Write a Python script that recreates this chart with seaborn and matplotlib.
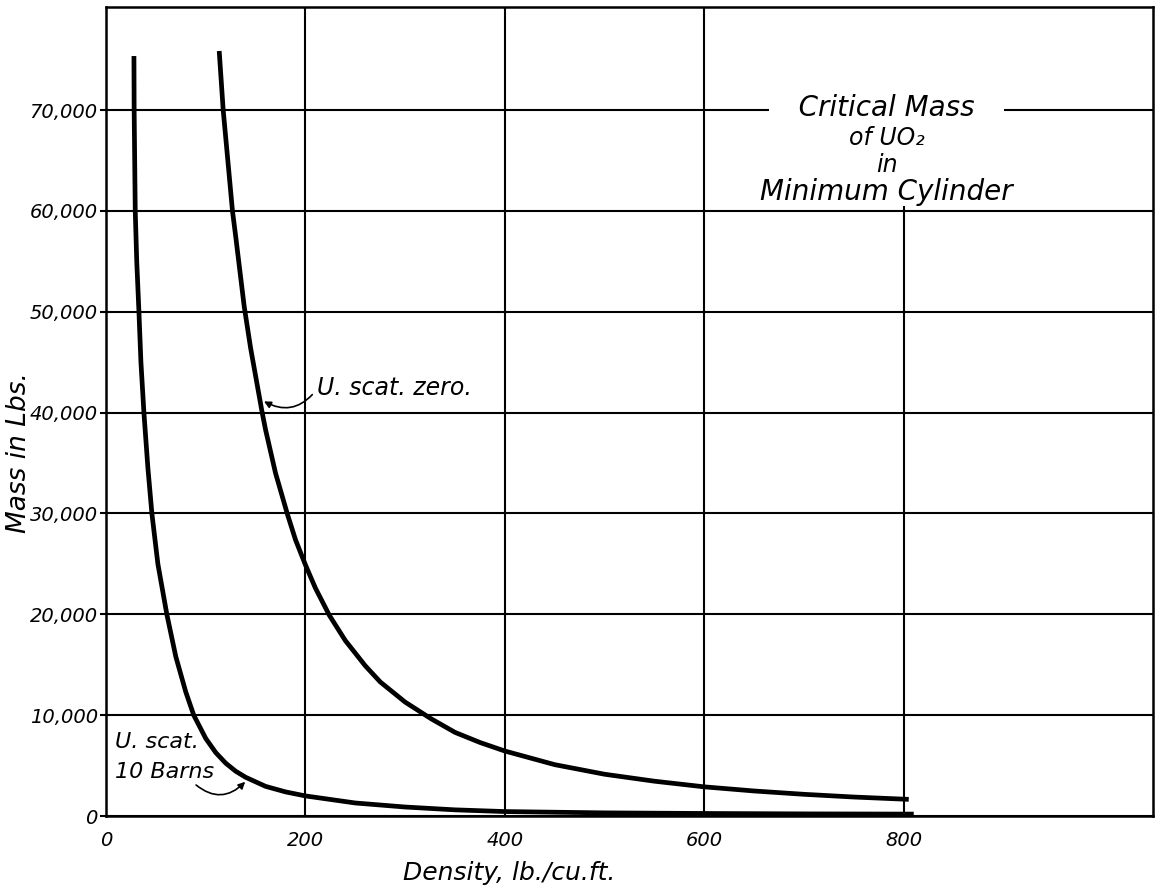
import matplotlib
matplotlib.use("Agg")
import matplotlib.pyplot as plt
import seaborn as sns

sns.set_style("white")
plt.rcParams['font.family'] = ['DejaVu Sans']
plt.rcParams['text.color'] = 'black'
plt.rcParams['axes.labelcolor'] = 'black'
plt.rcParams['xtick.color'] = 'black'
plt.rcParams['ytick.color'] = 'black'

# densities (lb/cu.ft.) and critical masses (lbs)
density_zero = [113.5, 117.5, 126.8, 130, 138.6, 145, 156.6, 160, 170, 182,
                190, 200, 210, 224, 240, 260, 275, 300, 326, 350, 375, 400,
                450, 500, 550, 600, 650, 700, 750, 800, 805]
mass_zero = [75850, 70000, 60000, 57500, 50500, 46400, 40000, 38300, 34000,
             29900, 27400, 24900, 22600, 19900, 17400, 14900, 13300, 11300,
             9650, 8300, 7300, 6450, 5100, 4150, 3460, 2900, 2490, 2160,
             1890, 1680, 1660]

density_10b = [28, 28.2, 29.3, 30.8, 33, 35, 38, 42, 46, 52, 61, 70, 80, 88,
               100, 110, 120, 130, 140, 160, 180, 200, 250, 300, 350, 400,
               500, 600, 700, 800, 810]
mass_10b = [75350, 70000, 60000, 55000, 50000, 45000, 40000, 34500, 30000,
            25000, 20000, 15800, 12300, 10000, 7700, 6300, 5250, 4450, 3850,
            2950, 2400, 2000, 1300, 900, 620, 450, 320, 260, 220, 200, 200]

x_ticks = [0, 200, 400, 600, 800]
y_ticks = [0, 10000, 20000, 30000, 40000, 50000, 60000, 70000]
y_labels = ["0", "10,000", "20,000", "30,000", "40,000", "50,000",
            "60,000", "70,000"]

fig = plt.figure(figsize=(11.6, 8.89), dpi=100)
ax = fig.add_axes([0.0914, 0.082, 0.9026, 0.910])

for xs, ys in [(density_zero, mass_zero), (density_10b, mass_10b)]:
    sns.lineplot(x=xs, y=ys, color="black", lw=3.4, estimator=None,
                 sort=False, ax=ax, solid_joinstyle="round",
                 solid_capstyle="butt")

ax.set_xlim(0, 1050)
ax.set_ylim(0, 80200)
ax.set_xticks(x_ticks)
ax.set_xticklabels([str(v) for v in x_ticks], fontsize=14, style="italic")
ax.set_yticks(y_ticks)
ax.set_yticklabels(y_labels, fontsize=14, style="italic")
ax.tick_params(axis="x", length=0, pad=11)
ax.tick_params(axis="y", length=4, width=1.5, pad=2, direction="out", left=True)

# grid: horizontal lines across, vertical lines (the 800 one stops under the title)
ax.set_axisbelow(True)
ax.yaxis.grid(True, color="black", lw=1.5)
ax.vlines(x_ticks[1:], 0, [80200, 80200, 80200, 60500], color="black",
          lw=1.5, zorder=0.5)
for s in ax.spines.values():
    s.set_color("black")
    s.set_linewidth(1.8)

ax.set_xlabel("Density, lb./cu.ft.", fontsize=18, style="italic")
ax.xaxis.set_label_coords(0.385, -0.056)
ax.set_ylabel("Mass in Lbs.", fontsize=19, style="italic")
ax.yaxis.set_label_coords(-0.071, 0.449)

# title block
tx = 783
ax.text(tx, 70200, "   Critical Mass   ", ha="center", va="center",
        fontsize=20, style="italic",
        bbox=dict(facecolor="white", edgecolor="none", pad=2))
ax.text(tx, 67250, "of UO\u2082", ha="center", va="center", fontsize=17,
        style="italic")
ax.text(tx, 64550, "in", ha="center", va="center", fontsize=17,
        style="italic")
ax.text(tx, 61900, "Minimum Cylinder", ha="center", va="center", fontsize=20,
        style="italic")

# curve labels
ax.annotate("U. scat. zero.", xy=(156, 41250), xytext=(212, 42400),
            fontsize=17, style="italic", va="center", ha="left",
            arrowprops=dict(arrowstyle="-|>", color="black", lw=1.2,
                            mutation_scale=10, shrinkA=2, shrinkB=2,
                            relpos=(0.0, 0.5),
                            connectionstyle="arc3,rad=-0.45"))
ax.text(9, 7300, "U. scat.", fontsize=16, style="italic", va="center")
ax.annotate("10 Barns", xy=(141.5, 3600), xytext=(9, 4400),
            fontsize=16, style="italic", va="center", ha="left",
            arrowprops=dict(arrowstyle="-|>", color="black", lw=1.2,
                            mutation_scale=10, shrinkA=0, shrinkB=2,
                            relpos=(0.78, 0.0),
                            connectionstyle="arc3,rad=0.5"))

fig.savefig("out.png", dpi=100, facecolor="white")
